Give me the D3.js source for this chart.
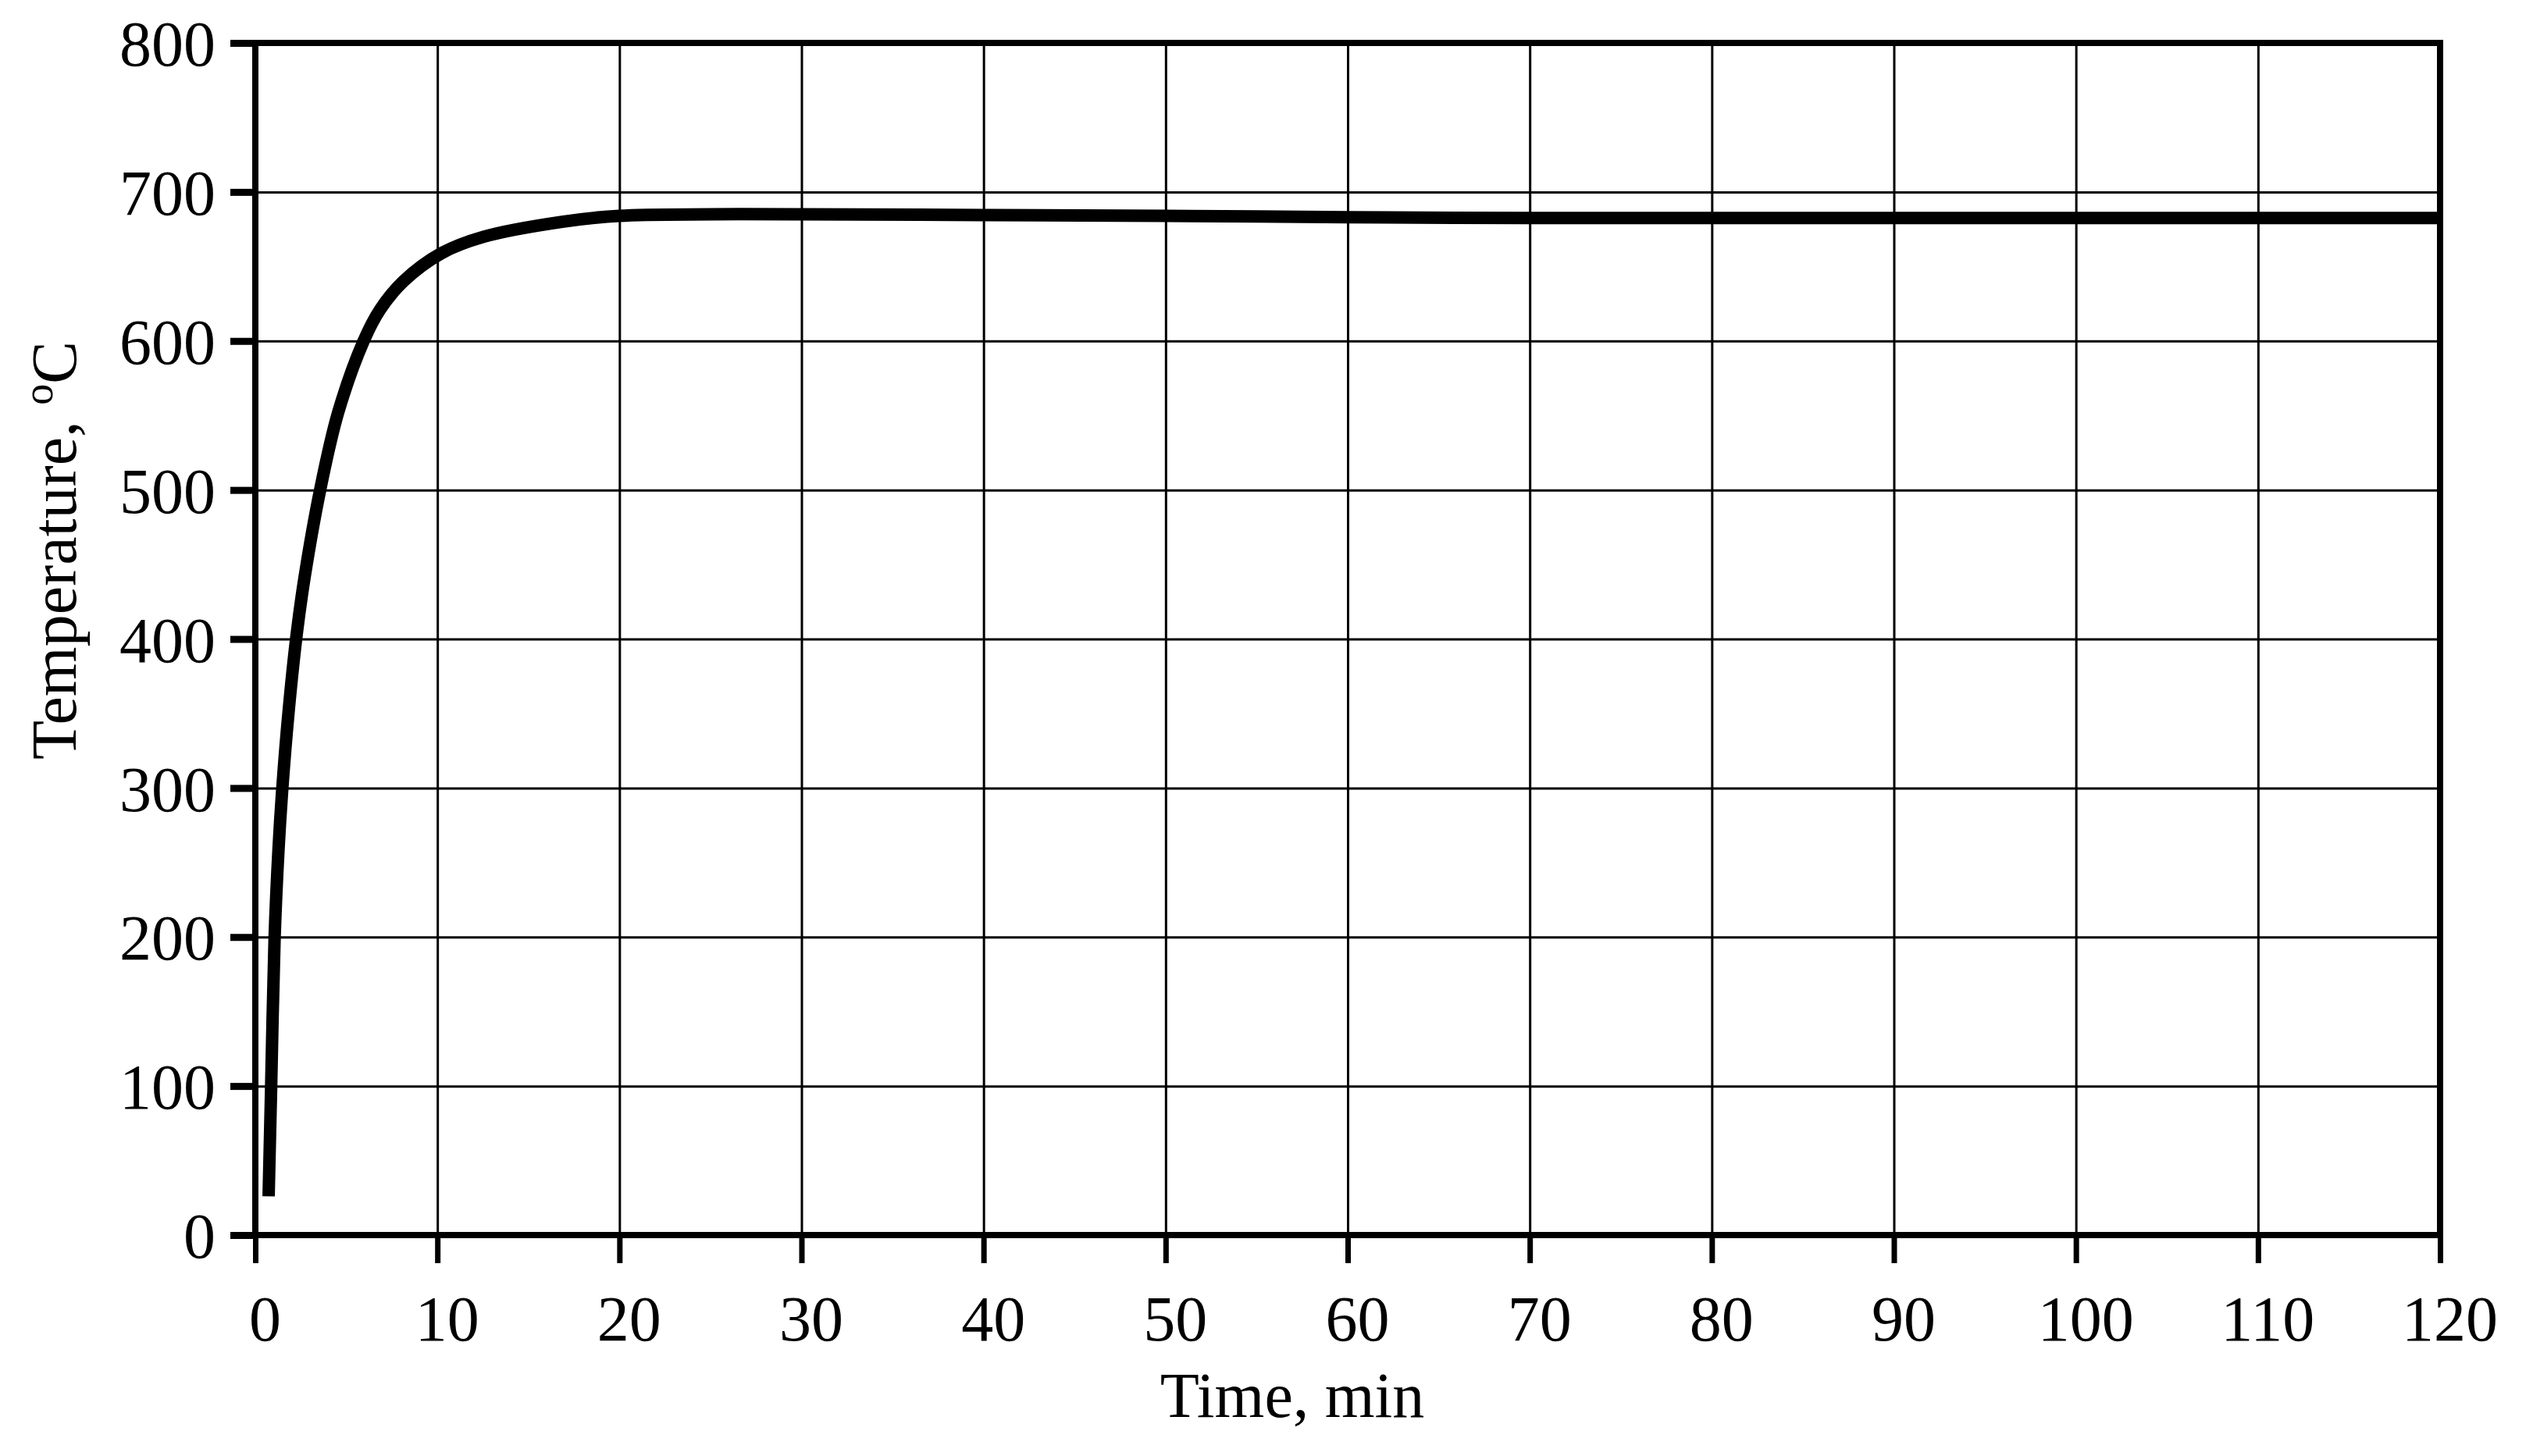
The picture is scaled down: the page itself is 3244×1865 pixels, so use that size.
<!DOCTYPE html>
<html>
<head>
<meta charset="utf-8">
<script src="https://cdn.jsdelivr.net/npm/d3@7"></script>
<style>
  html, body { margin: 0; padding: 0; background: #ffffff; }
  svg { display: block; }
  text { font-family: "Liberation Serif", "Times New Roman", serif; fill: #000; }
</style>
</head>
<body>
<svg id="chart" width="3244" height="1865"></svg>
<script>
// ---- data ----
const timeMin = [0.73, 0.87, 1.06, 1.27, 1.49, 1.84, 2.27, 2.70, 3.56, 4.55, 5.95, 6.85, 8.13, 10.24, 12.56, 16.85, 20, 25, 30, 40, 50, 60, 70, 80, 90, 100, 110, 120];
const temperature = [26, 100, 200, 258, 301, 353, 403, 441, 500, 552, 600, 621, 640, 659, 670, 680, 684, 685, 685, 684.5, 684, 683, 682.5, 682.5, 682.5, 682.5, 682.5, 682.5];
const xTicks = [0, 10, 20, 30, 40, 50, 60, 70, 80, 90, 100, 110, 120];
const yTicks = [0, 100, 200, 300, 400, 500, 600, 700, 800];
const xTitle = "Time, min";
const yTitle = "Temperature, ";

// ---- layout ----
const svg = d3.select("#chart");
const mLeft = 327, mRight = 3125, mTop = 55, mBottom = 1582;

const x = d3.scaleLinear().domain([0, 120]).range([mLeft, mRight]);
const y = d3.scaleLinear().domain([0, 800]).range([mBottom, mTop]);

// grid lines
svg.append("g")
  .attr("transform", `translate(0,${mBottom})`)
  .call(d3.axisBottom(x).tickValues(xTicks).tickSize(-(mBottom - mTop)).tickFormat(""))
  .call(g => g.select(".domain").remove())
  .call(g => g.selectAll("line").attr("stroke", "#000").attr("stroke-width", 3));

svg.append("g")
  .attr("transform", `translate(${mLeft},0)`)
  .call(d3.axisLeft(y).tickValues(yTicks).tickSize(-(mRight - mLeft)).tickFormat(""))
  .call(g => g.select(".domain").remove())
  .call(g => g.selectAll("line").attr("stroke", "#000").attr("stroke-width", 3));

// outer ticks + labels
const xAxis = svg.append("g")
  .attr("transform", `translate(0,${mBottom})`)
  .call(d3.axisBottom(x).tickValues(xTicks).tickSize(36).tickFormat(d3.format("d")));
xAxis.select(".domain").remove();
xAxis.selectAll("line").attr("stroke", "#000").attr("stroke-width", 7);
xAxis.selectAll("text")
  .attr("y", 135).attr("dy", 0).attr("dx", 12)
  .attr("font-size", 82).attr("font-family", "Liberation Serif").attr("fill", "#000");

const yAxis = svg.append("g")
  .attr("transform", `translate(${mLeft},0)`)
  .call(d3.axisLeft(y).tickValues(yTicks).tickSize(32).tickFormat(d3.format("d")));
yAxis.select(".domain").remove();
yAxis.selectAll("line").attr("stroke", "#000").attr("stroke-width", 9);
yAxis.selectAll("text")
  .attr("x", -51).attr("dy", "0.35em")
  .attr("font-size", 82).attr("font-family", "Liberation Serif").attr("fill", "#000");

// frame
svg.append("rect")
  .attr("x", x(0)).attr("y", y(800))
  .attr("width", x(120) - x(0)).attr("height", y(0) - y(800))
  .attr("fill", "none").attr("stroke", "#000").attr("stroke-width", 8);

// curve
const line = d3.line()
  .x((d, i) => x(timeMin[i]))
  .y(d => y(d))
  .curve(d3.curveCatmullRom.alpha(0.5));

svg.append("path")
  .datum(temperature)
  .attr("d", line)
  .attr("fill", "none")
  .attr("stroke", "#000")
  .attr("stroke-width", 16)
  .attr("stroke-linecap", "butt")
  .attr("stroke-linejoin", "round");

// axis titles
svg.append("text")
  .attr("x", 1655).attr("y", 1815)
  .attr("text-anchor", "middle")
  .attr("font-size", 82)
  .text(xTitle);

const yt = svg.append("text")
  .attr("transform", "translate(97,705) rotate(-90)")
  .attr("text-anchor", "middle")
  .attr("font-size", 82);
yt.append("tspan").text(yTitle);
yt.append("tspan").attr("font-size", 54).attr("dy", -30).text("o");
yt.append("tspan").attr("dy", 30).text("C");
</script>
</body>
</html>
